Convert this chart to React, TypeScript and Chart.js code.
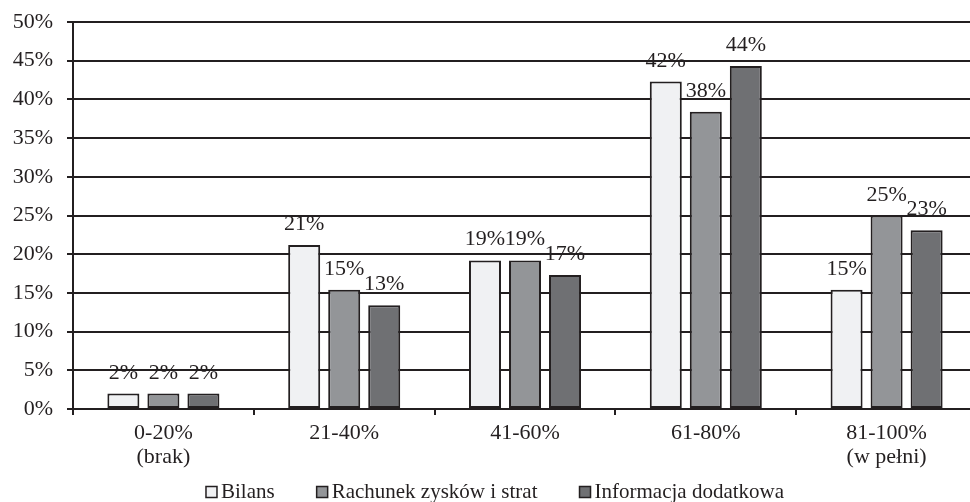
import React, { useEffect, useRef } from "react";
import { Chart, registerables } from "chart.js";

Chart.register(...registerables);

const categories: (string | string[])[] = [
  ["0-20%", "(brak)"],
  "21-40%",
  "41-60%",
  "61-80%",
  ["81-100%", "(w pełni)"],
];
const seriesNames = ["Bilans", "Rachunek zysków i strat", "Informacja dodatkowa"];
const bilans = [2.0, 21.2, 19.2, 42.3, 15.4];
const rachunek = [2.0, 15.4, 19.2, 38.4, 25.0];
const informacja = [2.0, 13.4, 17.3, 44.3, 23.1];
const yMin = 0;
const yMax = 50;
const yStep = 5;

const seriesColors = ["#f0f1f3", "#939598", "#6f7073"];
const INK = "#231f20";
const FONT = "'Liberation Serif', 'Times New Roman', serif";
const FONT_SIZE = 22;
const LEGEND_FONT_SIZE = 21;

const barLabelsPlugin = {
  id: "barLabels",
  afterDatasetsDraw(chart: any) {
    const ctx = chart.ctx;
    ctx.save();
    ctx.font = `${FONT_SIZE}px ${FONT}`;
    ctx.fillStyle = INK;
    ctx.textAlign = "center";
    ctx.textBaseline = "alphabetic";
    chart.data.datasets.forEach((ds: any, i: number) => {
      const meta = chart.getDatasetMeta(i);
      meta.data.forEach((el: any, j: number) => {
        const v = ds.data[j] as number;
        ctx.fillText(Math.round(v) + "%", el.x, el.y - 15);
      });
    });
    ctx.restore();
  },
};

const customLegendPlugin = {
  id: "customLegend",
  afterDraw(chart: any) {
    const ctx = chart.ctx;
    ctx.save();
    ctx.font = `${LEGEND_FONT_SIZE}px ${FONT}`;
    const box = 11;
    const boxGap = 4;
    const itemGap = 42;
    const widths = chart.data.datasets.map(
      (ds: any) => box + boxGap + ctx.measureText(ds.label).width
    );
    const total = widths.reduce((a: number, b: number) => a + b, 0) + itemGap * (widths.length - 1);
    const centerX = 495;
    const baseline = 498;
    let x = centerX - total / 2;
    chart.data.datasets.forEach((ds: any, i: number) => {
      ctx.fillStyle = ds.backgroundColor;
      ctx.strokeStyle = INK;
      ctx.lineWidth = 1.5;
      ctx.fillRect(x, baseline - box - 0.5, box, box);
      ctx.strokeRect(x, baseline - box - 0.5, box, box);
      ctx.fillStyle = INK;
      ctx.textAlign = "left";
      ctx.textBaseline = "alphabetic";
      ctx.fillText(ds.label, x + box + boxGap, baseline);
      x += widths[i] + itemGap;
    });
    ctx.restore();
  },
};

export default function App() {
  const canvasRef = useRef<HTMLCanvasElement | null>(null);

  useEffect(() => {
    const canvas = canvasRef.current;
    if (!canvas) return;
    const seriesData = [bilans, rachunek, informacja];
    const chart = new Chart(canvas, {
      type: "bar",
      data: {
        labels: categories,
        datasets: seriesNames.map((name, i) => ({
          label: name,
          data: seriesData[i],
          backgroundColor: seriesColors[i],
          borderColor: INK,
          borderWidth: 2,
          borderSkipped: false,
          categoryPercentage: 0.664,
          barPercentage: 0.8,
        })),
      },
      options: {
        responsive: false,
        animation: false,
        devicePixelRatio: 1,
        layout: { padding: { top: 22, right: 0, bottom: 0, left: 0 } },
        plugins: {
          legend: { display: false },
          tooltip: { enabled: false },
          title: { display: false },
        },
        scales: {
          x: {
            offset: true,
            grid: {
              offset: true,
              display: true,
              drawOnChartArea: false,
              drawTicks: true,
              tickLength: 6,
              color: INK,
              lineWidth: 2,
            },
            border: { display: true, color: INK, width: 2 },
            ticks: {
              color: INK,
              font: { family: FONT, size: FONT_SIZE, lineHeight: 1.1 },
              padding: 6,
              maxRotation: 0,
              autoSkip: false,
            },
            afterFit(scale: any) {
              scale.height = 93;
            },
          },
          y: {
            min: yMin,
            max: yMax,
            grid: {
              color: INK,
              lineWidth: 2,
              tickLength: 6,
              drawTicks: true,
            },
            border: { display: true, color: INK, width: 2 },
            ticks: {
              stepSize: yStep,
              color: INK,
              font: { family: FONT, size: FONT_SIZE },
              padding: 14,
              callback: (v: any) => v + "%",
            },
            afterFit(scale: any) {
              scale.width = 73;
              scale.paddingTop = 0;
              scale.paddingBottom = 0;
            },
          },
        },
      },
      plugins: [barLabelsPlugin, customLegendPlugin],
    });
    return () => chart.destroy();
  }, []);

  return (
    <div
      style={{
        position: "fixed",
        left: 0,
        top: 0,
        width: 970,
        height: 502,
        overflow: "hidden",
        background: "#ffffff",
      }}
    >
      <canvas ref={canvasRef} width={977} height={502} style={{ display: "block" }} />
    </div>
  );
}
